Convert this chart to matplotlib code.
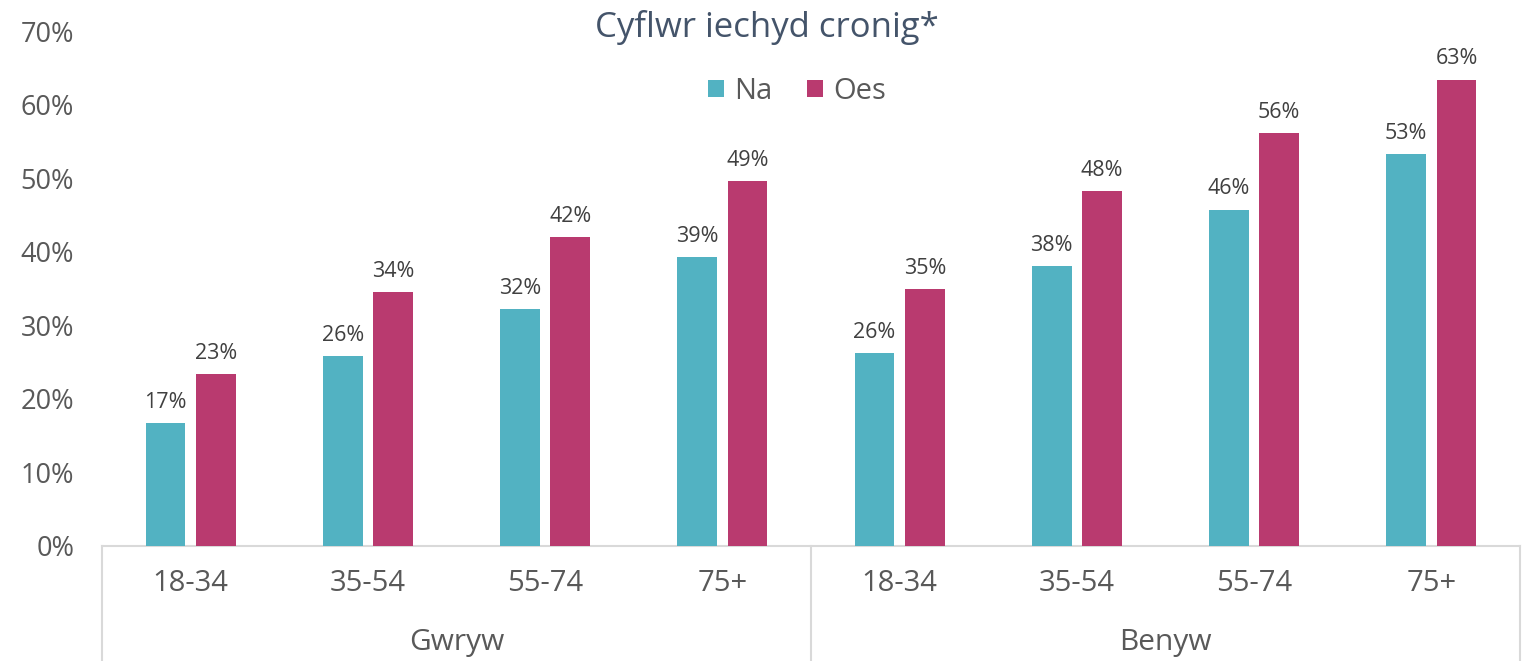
import numpy as np
import matplotlib.pyplot as plt

# data
ages = ["18-34", "35-54", "55-74", "75+", "18-34", "35-54", "55-74", "75+"]
groups = ["Gwryw", "Benyw"]
na = [17, 26, 32, 39, 26, 38, 46, 53]
oes = [23, 34, 42, 49, 35, 48, 56, 63]
# bar heights (labels are rounded)
na_h = [16.7, 25.8, 32.2, 39.3, 26.2, 38.0, 45.7, 53.3]
oes_h = [23.4, 34.5, 42.0, 49.6, 34.9, 48.2, 56.1, 63.4]

c_na = "#52B2C2"
c_oes = "#B93A6F"
txt = "#595959"
grid_c = "#D9D9D9"

plt.rcParams['font.family'] = ['Open Sans', 'DejaVu Sans']

fig = plt.figure(figsize=(15.27, 6.61), dpi=100)
ax = fig.add_axes([102/1527, 115/661, 1418/1527, 515/661])

x = np.arange(len(ages))
off = 0.142
w = 0.225
ax.bar(x - off, na_h, w, color=c_na, label="Na", zorder=3)
ax.bar(x + off, oes_h, w, color=c_oes, label="Oes", zorder=3)

for i in range(len(ages)):
    ax.text(x[i] - off, na_h[i] + 1.4, f"{na[i]}%", ha='center', va='bottom',
            fontsize=15.5, color="#404040")
    ax.text(x[i] + off, oes_h[i] + 1.4, f"{oes[i]}%", ha='center', va='bottom',
            fontsize=15.5, color="#404040")

ax.set_xlim(-0.5, 7.5)
ax.set_ylim(0, 70)
ax.set_yticks(range(0, 71, 10))
ax.set_yticklabels([f"{v}%" for v in range(0, 71, 10)])
ax.tick_params(axis='y', length=0, pad=20, labelsize=19.5, labelcolor=txt)
ax.set_xticks([])

for s in ['top', 'right', 'left']:
    ax.spines[s].set_visible(False)
ax.spines['bottom'].set_color(grid_c)
ax.spines['bottom'].set_linewidth(1.5)

trans = ax.get_xaxis_transform()
for i, a in enumerate(ages):
    ax.text(x[i], -0.072, a, transform=trans, ha='center', va='center',
            fontsize=21, color=txt)
for j, g in enumerate(groups):
    ax.text(1.5 + 4*j, -0.188, g, transform=trans, ha='center', va='center',
            fontsize=21.5, color=txt)
for xv in [-0.5, 3.5, 7.5]:
    ax.plot([xv, xv], [0, -0.23], transform=trans, color=grid_c, lw=1.5,
            clip_on=False)

ax.legend(loc='upper center', bbox_to_anchor=(0.49, 0.962), ncol=2, frameon=False,
          fontsize=21, handlelength=0.55, handleheight=0.55, handletextpad=0.35,
          columnspacing=1.2, labelcolor=txt)

fig.text(0.502, 0.958, "Cyflwr iechyd cronig*", ha='center', va='center',
         fontsize=25, color="#44546A")

fig.savefig("out.png", dpi=100)
